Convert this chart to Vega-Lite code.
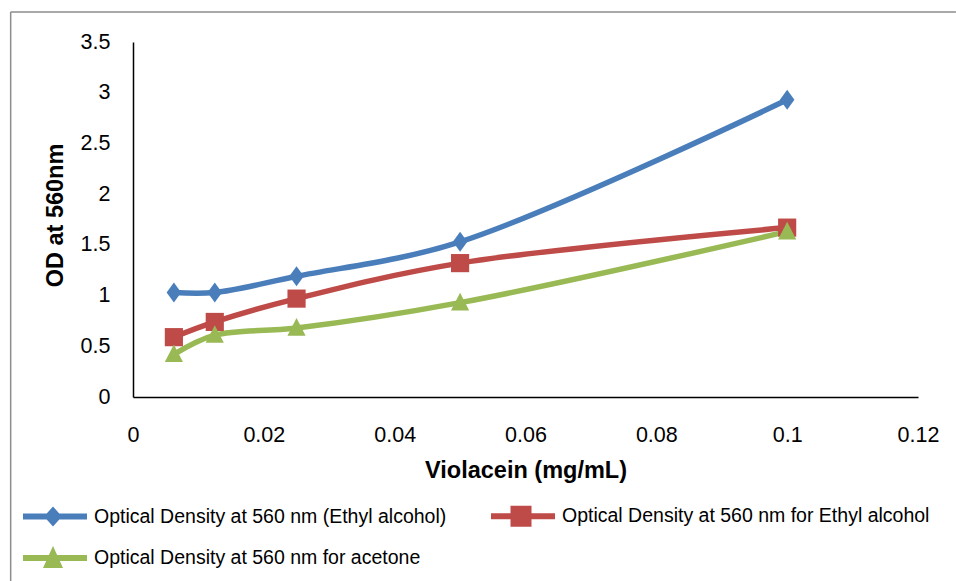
{
  "$schema": "https://vega.github.io/schema/vega-lite/v6.json",
  "autosize": "none",
  "width": 785,
  "height": 355,
  "padding": {"left": 133, "top": 42, "right": 38, "bottom": 184},
  "background": "white",
  "config": {
    "view": {"stroke": null},
    "font": "Liberation Sans"
  },
  "layer": [
    {
      "data": {"values": [{"k": "top"}]},
      "mark": {"type": "rule", "strokeWidth": 1.5, "clip": false},
      "encoding": {
        "x": {"datum": -0.0187, "type": "quantitative", "scale": {"domain": [0, 0.12], "nice": false}},
        "x2": {"datum": 0.1258},
        "y": {"datum": 3.796, "type": "quantitative", "scale": {"domain": [0, 3.5], "nice": false}},
        "color": {"value": "#8c8c8c"}
      }
    },
    {
      "data": {"values": [{"k": "left"}]},
      "mark": {"type": "rule", "strokeWidth": 1.5, "clip": false},
      "encoding": {
        "x": {"datum": -0.0187, "type": "quantitative"},
        "y": {"datum": 3.796, "type": "quantitative"},
        "y2": {"datum": -1.82},
        "color": {"value": "#8c8c8c"}
      }
    },
    {
      "data": {
        "values": [
          {"x": 0.00625, "od": 1.03, "series": "Optical Density at 560 nm (Ethyl alcohol)"},
          {"x": 0.0125, "od": 1.03, "series": "Optical Density at 560 nm (Ethyl alcohol)"},
          {"x": 0.025, "od": 1.19, "series": "Optical Density at 560 nm (Ethyl alcohol)"},
          {"x": 0.05, "od": 1.53, "series": "Optical Density at 560 nm (Ethyl alcohol)"},
          {"x": 0.1, "od": 2.93, "series": "Optical Density at 560 nm (Ethyl alcohol)"},
          {"x": 0.00625, "od": 0.59, "series": "Optical Density at 560 nm for Ethyl alcohol"},
          {"x": 0.0125, "od": 0.74, "series": "Optical Density at 560 nm for Ethyl alcohol"},
          {"x": 0.025, "od": 0.97, "series": "Optical Density at 560 nm for Ethyl alcohol"},
          {"x": 0.05, "od": 1.32, "series": "Optical Density at 560 nm for Ethyl alcohol"},
          {"x": 0.1, "od": 1.67, "series": "Optical Density at 560 nm for Ethyl alcohol"},
          {"x": 0.00625, "od": 0.42, "series": "Optical Density at 560 nm for acetone"},
          {"x": 0.0125, "od": 0.61, "series": "Optical Density at 560 nm for acetone"},
          {"x": 0.025, "od": 0.68, "series": "Optical Density at 560 nm for acetone"},
          {"x": 0.05, "od": 0.93, "series": "Optical Density at 560 nm for acetone"},
          {"x": 0.1, "od": 1.63, "series": "Optical Density at 560 nm for acetone"}
        ]
      },
      "encoding": {
        "x": {
          "field": "x",
          "type": "quantitative",
          "scale": {"domain": [0, 0.12], "nice": false},
          "axis": {
            "title": "Violacein (mg/mL)",
            "values": [0, 0.02, 0.04, 0.06, 0.08, 0.1, 0.12],
            "format": ".6~g",
            "grid": false,
            "ticks": false,
            "domainColor": "#000000",
            "domainWidth": 1.5,
            "labelFont": "Liberation Sans",
            "labelFontSize": 21.5,
            "labelColor": "#000000",
            "labelPadding": 27,
            "labelFlush": false,
            "titleFont": "Liberation Sans",
            "titleFontSize": 23.5,
            "titleFontWeight": "bold",
            "titleColor": "#000000",
            "titleBaseline": "middle",
            "titleY": 73
          }
        },
        "y": {
          "field": "od",
          "type": "quantitative",
          "scale": {"domain": [0, 3.5], "nice": false},
          "axis": {
            "title": "OD at 560nm",
            "values": [0, 0.5, 1, 1.5, 2, 2.5, 3, 3.5],
            "format": ".6~g",
            "grid": false,
            "ticks": false,
            "domainColor": "#000000",
            "domainWidth": 1.5,
            "labelFont": "Liberation Sans",
            "labelFontSize": 21.5,
            "labelColor": "#000000",
            "labelPadding": 23,
            "labelFlush": false,
            "titleFont": "Liberation Sans",
            "titleFontSize": 23.5,
            "titleFontWeight": "bold",
            "titleColor": "#000000",
            "titleAngle": -90,
            "titleBaseline": "middle",
            "titleAlign": "center",
            "titleX": -78,
            "titleY": 173
          }
        },
        "color": {
          "field": "series",
          "type": "nominal",
          "scale": {
            "domain": ["Optical Density at 560 nm (Ethyl alcohol)", "Optical Density at 560 nm for Ethyl alcohol", "Optical Density at 560 nm for acetone"],
            "range": ["#4A7EBB", "#BE4B48", "#98B954"]
          },
          "legend": {
            "title": null,
            "orient": "none",
            "direction": "horizontal",
            "legendX": -110,
            "legendY": 464,
            "columns": 2,
            "columnPadding": 44,
            "rowPadding": 19,
            "padding": 0,
            "symbolSize": 400,
            "labelOffset": 51,
            "labelFont": "Liberation Sans",
            "labelFontSize": 19.5,
            "labelColor": "#000000",
            "labelLimit": 0,
            "encode": {
              "symbols": {
                "update": {
                  "shape": {"signal": "datum.value === 'Optical Density at 560 nm (Ethyl alcohol)' ? 'M-1,-0.3H5.4V0.3H-1Z M2,-1L2.9,0L2,1L1.1,0Z' : datum.value === 'Optical Density at 560 nm for Ethyl alcohol' ? 'M-1,-0.3H5.4V0.3H-1Z M0.95,-1.05H3.05V1.05H0.95Z' : 'M-1,-0.3H5.4V0.3H-1Z M2,-1.2L3,1H1Z'"},
                  "fill": {"signal": "datum.value === 'Optical Density at 560 nm (Ethyl alcohol)' ? '#4A7EBB' : datum.value === 'Optical Density at 560 nm for Ethyl alcohol' ? '#BE4B48' : '#98B954'"},
                  "stroke": {"value": null},
                  "strokeWidth": {"value": 0},
                  "opacity": {"value": 1}
                }
              }
            }
          }
        }
      },
      "layer": [
        {
          "mark": {"type": "line", "strokeWidth": 5.5, "interpolate": "catmull-rom"}
        },
        {
          "transform": [{"filter": "datum.series === 'Optical Density at 560 nm (Ethyl alcohol)'"}],
          "mark": {"type": "point", "filled": true, "opacity": 1, "size": 330, "shape": "M0,-1.1L0.8,0L0,1.1L-0.8,0Z"}
        },
        {
          "transform": [{"filter": "datum.series === 'Optical Density at 560 nm for Ethyl alcohol'"}],
          "mark": {"type": "point", "filled": true, "opacity": 1, "size": 330, "shape": "square"}
        },
        {
          "transform": [{"filter": "datum.series === 'Optical Density at 560 nm for acetone'"}],
          "mark": {"type": "point", "filled": true, "opacity": 1, "size": 330, "shape": "M0,-1.1L1,0.85H-1Z"}
        }
      ]
    }
  ]
}
